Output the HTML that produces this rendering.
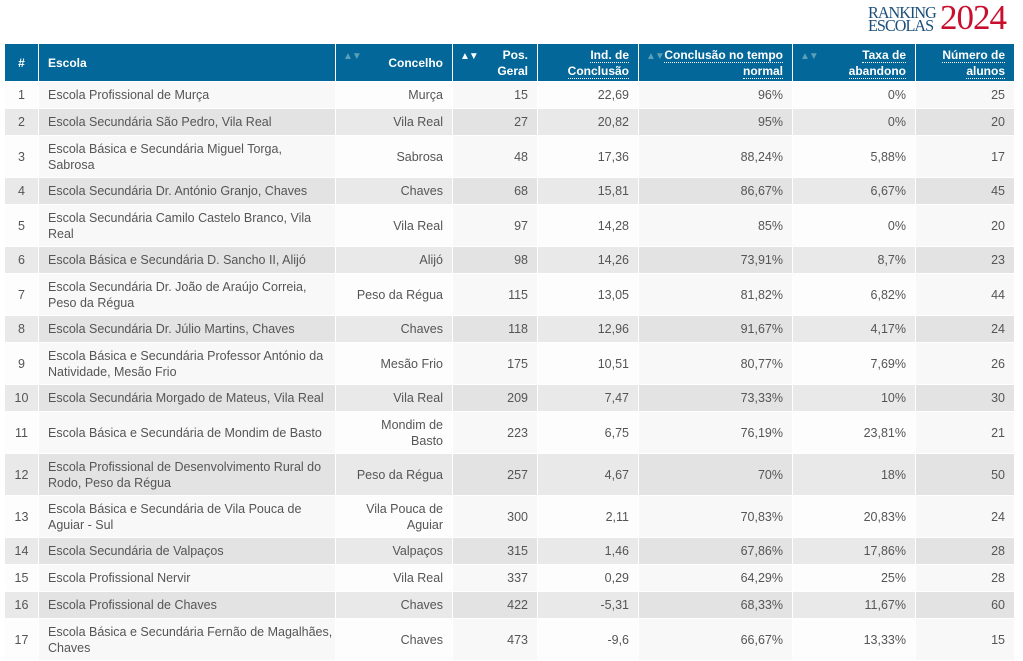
<!DOCTYPE html>
<html><head><meta charset="utf-8"><style>
body{margin:0;background:#fff;font-family:"Liberation Sans",sans-serif;}
.logo{position:absolute;left:868px;top:4px;height:30px;}
.logo .rk{position:absolute;left:0;top:2px;font-family:"Liberation Serif",serif;color:#1b4f7a;font-size:17px;line-height:13px;letter-spacing:-1px;transform:scaleX(0.95);transform-origin:left top;}
.logo .yr{position:absolute;left:72px;top:-2px;font-family:"Liberation Serif",serif;color:#c8102e;font-size:35px;line-height:32px;letter-spacing:-1px;}
table{position:absolute;left:4px;top:43px;border-collapse:collapse;table-layout:fixed;width:1010px;font-size:12.5px;color:#555;}
td,th{border:1px solid #fff;padding:0 9px;text-align:right;line-height:16px;white-space:nowrap;}
th{background:#046799;color:#fff;font-weight:bold;height:37px;position:relative;font-size:12px;}
th u{text-decoration:none;border-bottom:1px dotted #fff;}
th .ar{position:absolute;left:7px;top:5px;font-size:10px;color:#5aa0b8;letter-spacing:-1px;}
th .ar.w{color:#fff}
td.e,th.e{text-align:left}
td.n{text-align:center;padding:0}
th.n{text-align:center;padding:0}
tr.s td{height:26px}
tr.d td{height:41px}
tr.o td{background:#f8f8f8}
tr.o td:nth-child(odd){background:#fdfdfd}
tr.v td{background:#e9e9e9}
tr.v td:nth-child(even){background:#e3e3e3}
</style></head><body>
<div class="logo"><div class="rk">RANKING<br>ESCOLAS</div><div class="yr">2024</div></div>
<table>
<colgroup><col style="width:34px"><col style="width:297px"><col style="width:117px"><col style="width:85px"><col style="width:101px"><col style="width:154px"><col style="width:123px"><col style="width:99px"></colgroup>
<tr><th class="n">#</th><th class="e">Escola</th><th><span class="ar">▲▼</span>Concelho</th><th><span class="ar w">▲▼</span>Pos.<br>Geral</th><th><u>Ind. de</u><br><u>Conclusão</u></th><th><span class="ar">▲▼</span><u>Conclusão no tempo</u><br><u>normal</u></th><th><span class="ar">▲▼</span><u>Taxa de</u><br><u>abandono</u></th><th><u>Número de</u><br><u>alunos</u></th></tr>
<tr class="s o"><td class="n">1</td><td class="e">Escola Profissional de Murça</td><td>Murça</td><td>15</td><td>22,69</td><td>96%</td><td>0%</td><td>25</td></tr>
<tr class="s v"><td class="n">2</td><td class="e">Escola Secundária São Pedro, Vila Real</td><td>Vila Real</td><td>27</td><td>20,82</td><td>95%</td><td>0%</td><td>20</td></tr>
<tr class="d o"><td class="n">3</td><td class="e">Escola Básica e Secundária Miguel Torga,<br>Sabrosa</td><td>Sabrosa</td><td>48</td><td>17,36</td><td>88,24%</td><td>5,88%</td><td>17</td></tr>
<tr class="s v"><td class="n">4</td><td class="e">Escola Secundária Dr. António Granjo, Chaves</td><td>Chaves</td><td>68</td><td>15,81</td><td>86,67%</td><td>6,67%</td><td>45</td></tr>
<tr class="d o"><td class="n">5</td><td class="e">Escola Secundária Camilo Castelo Branco, Vila<br>Real</td><td>Vila Real</td><td>97</td><td>14,28</td><td>85%</td><td>0%</td><td>20</td></tr>
<tr class="s v"><td class="n">6</td><td class="e">Escola Básica e Secundária D. Sancho II, Alijó</td><td>Alijó</td><td>98</td><td>14,26</td><td>73,91%</td><td>8,7%</td><td>23</td></tr>
<tr class="d o"><td class="n">7</td><td class="e">Escola Secundária Dr. João de Araújo Correia,<br>Peso da Régua</td><td>Peso da Régua</td><td>115</td><td>13,05</td><td>81,82%</td><td>6,82%</td><td>44</td></tr>
<tr class="s v"><td class="n">8</td><td class="e">Escola Secundária Dr. Júlio Martins, Chaves</td><td>Chaves</td><td>118</td><td>12,96</td><td>91,67%</td><td>4,17%</td><td>24</td></tr>
<tr class="d o"><td class="n">9</td><td class="e">Escola Básica e Secundária Professor António da<br>Natividade, Mesão Frio</td><td>Mesão Frio</td><td>175</td><td>10,51</td><td>80,77%</td><td>7,69%</td><td>26</td></tr>
<tr class="s v"><td class="n">10</td><td class="e">Escola Secundária Morgado de Mateus, Vila Real</td><td>Vila Real</td><td>209</td><td>7,47</td><td>73,33%</td><td>10%</td><td>30</td></tr>
<tr class="d o"><td class="n">11</td><td class="e">Escola Básica e Secundária de Mondim de Basto</td><td>Mondim de<br>Basto</td><td>223</td><td>6,75</td><td>76,19%</td><td>23,81%</td><td>21</td></tr>
<tr class="d v"><td class="n">12</td><td class="e">Escola Profissional de Desenvolvimento Rural do<br>Rodo, Peso da Régua</td><td>Peso da Régua</td><td>257</td><td>4,67</td><td>70%</td><td>18%</td><td>50</td></tr>
<tr class="d o"><td class="n">13</td><td class="e">Escola Básica e Secundária de Vila Pouca de<br>Aguiar - Sul</td><td>Vila Pouca de<br>Aguiar</td><td>300</td><td>2,11</td><td>70,83%</td><td>20,83%</td><td>24</td></tr>
<tr class="s v"><td class="n">14</td><td class="e">Escola Secundária de Valpaços</td><td>Valpaços</td><td>315</td><td>1,46</td><td>67,86%</td><td>17,86%</td><td>28</td></tr>
<tr class="s o"><td class="n">15</td><td class="e">Escola Profissional Nervir</td><td>Vila Real</td><td>337</td><td>0,29</td><td>64,29%</td><td>25%</td><td>28</td></tr>
<tr class="s v"><td class="n">16</td><td class="e">Escola Profissional de Chaves</td><td>Chaves</td><td>422</td><td>-5,31</td><td>68,33%</td><td>11,67%</td><td>60</td></tr>
<tr class="d o"><td class="n">17</td><td class="e">Escola Básica e Secundária Fernão de Magalhães,<br>Chaves</td><td>Chaves</td><td>473</td><td>-9,6</td><td>66,67%</td><td>13,33%</td><td>15</td></tr>
</table>
</body></html>
